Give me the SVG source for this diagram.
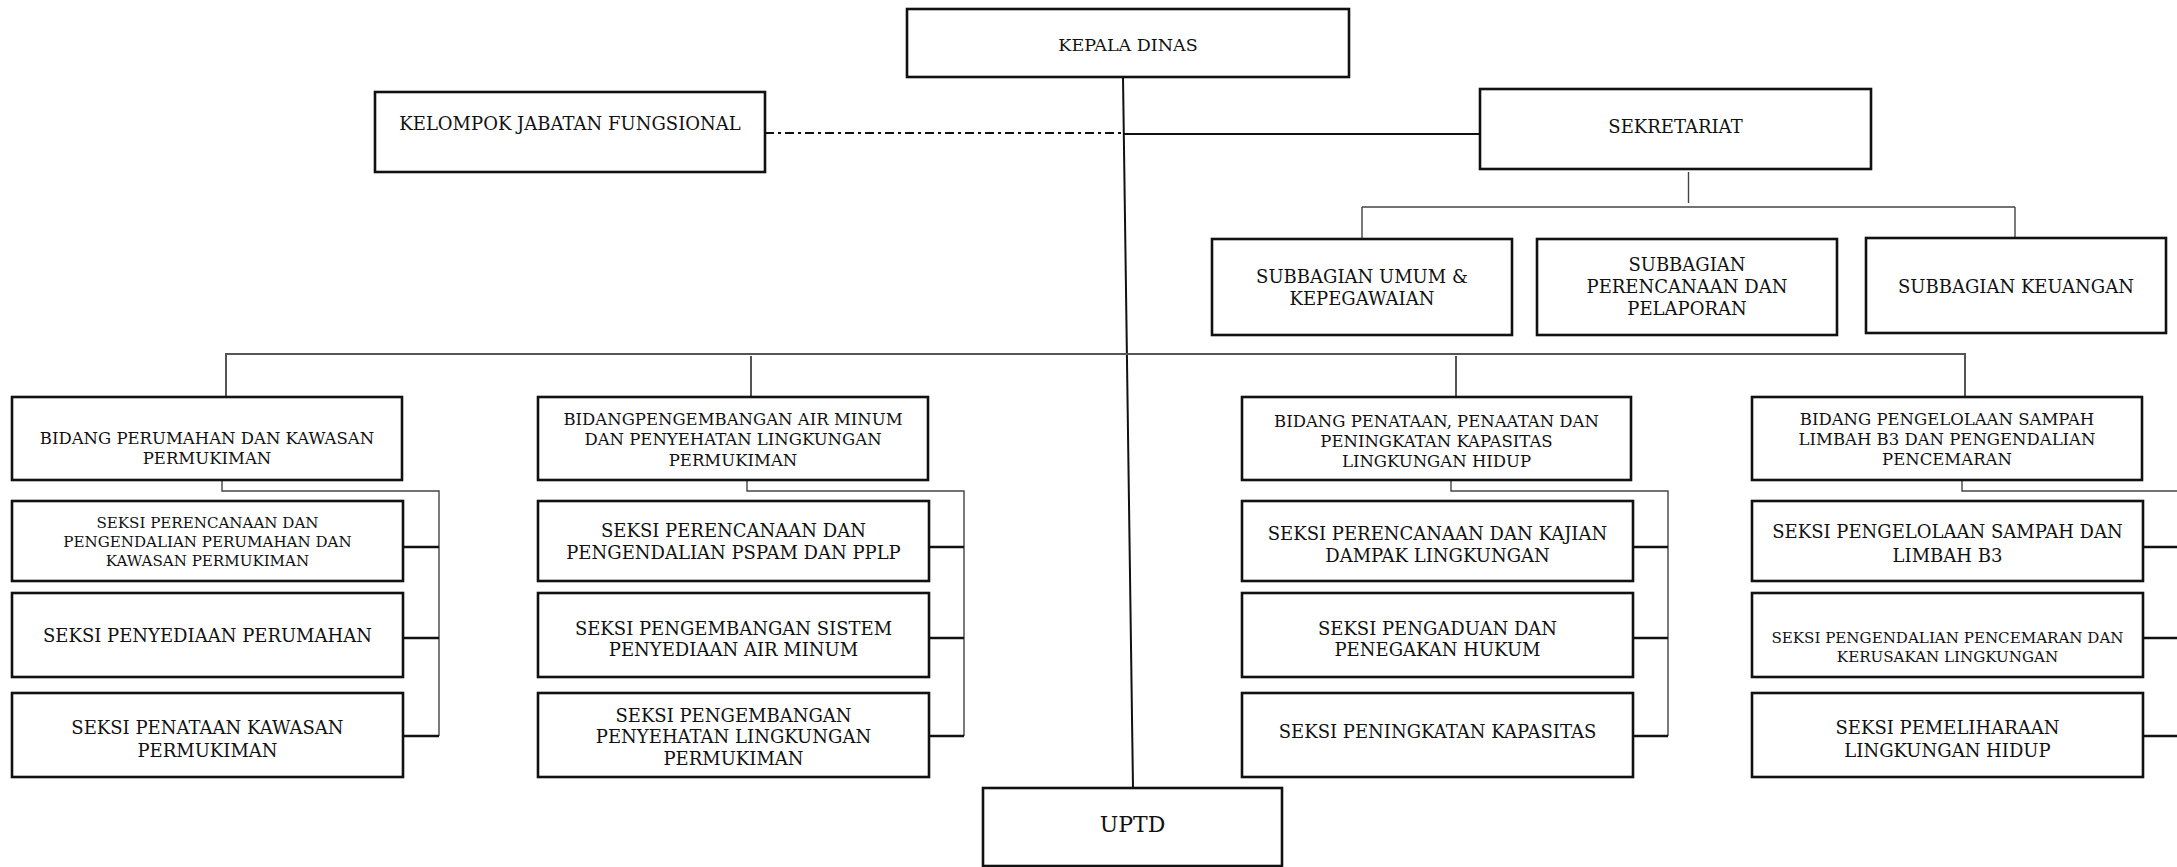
<svg xmlns="http://www.w3.org/2000/svg" width="2177" height="867" viewBox="0 0 2177 867">
<style>
.box{fill:#fff;stroke:#111;stroke-width:2.6}
.t{font-family:"DejaVu Serif","Liberation Serif",serif;fill:#111;text-anchor:middle}
.f18{font-size:18px}
.f17{font-size:17.5px}
.f165{font-size:16.5px}
.f155{font-size:15.1px}
.f22{font-size:22px}
.ln{fill:none;stroke:#111;stroke-width:1.6}
.bus{fill:none;stroke:#555;stroke-width:2}
.thin{fill:none;stroke:#444;stroke-width:1.4}
.stub{fill:none;stroke:#111;stroke-width:2.6}
.dd{fill:none;stroke:#111;stroke-width:2.2;stroke-dasharray:9 4 3 4}
</style>
<rect width="2177" height="867" fill="#fff"/>
<g id="connectors">
<path class="dd" d="M765,133 H1124"/>
<path class="ln" d="M1124,134 H1480" style="stroke-width:2.2"/>
<path class="ln" d="M1123,77 L1133,788" style="stroke-width:2"/>
<path class="thin" d="M1688.5,172 V203 M1362,207 H2015 M1362,207 V239 M2015,207 V238"/>
<path class="bus" d="M226,397 V354 H1965 V397 M751,356 V397 M1456,356 V397"/>
<path class="thin" d="M222,480 V491 H439 V736 M747,480 V491 H964 V736 M1451,480 V491 H1668 V736 M1962,480 V491 H2177"/>
<path class="stub" d="M403,547 H439 M403,638 H439 M403,736 H439 M929,547 H964 M929,638 H964 M929,736 H964 M1633,547 H1668 M1633,638 H1668 M1633,736 H1668 M2143,547 H2177 M2143,638 H2177 M2143,736 H2177"/>
</g>
<g id="kepala-dinas"><rect class="box" x="907" y="9" width="442" height="68"/><text class="t f17" x="1128" y="50.5">KEPALA DINAS</text></g>
<g id="kelompok"><rect class="box" x="375" y="92" width="390" height="80"/><text class="t f18" x="570" y="130">KELOMPOK JABATAN FUNGSIONAL</text></g>
<g id="sekretariat"><rect class="box" x="1480" y="89" width="391" height="80"/><text class="t f18" x="1675.5" y="133">SEKRETARIAT</text></g>
<g id="sub-umum"><rect class="box" x="1212" y="239" width="300" height="96"/><text class="t f18" x="1362"><tspan x="1362" y="282.5">SUBBAGIAN UMUM &amp;</tspan><tspan x="1362" y="304.5">KEPEGAWAIAN</tspan></text></g>
<g id="sub-perencanaan"><rect class="box" x="1537" y="239" width="300" height="96"/><text class="t f18"><tspan x="1687" y="270.5">SUBBAGIAN</tspan><tspan x="1687" y="292.5">PERENCANAAN DAN</tspan><tspan x="1687" y="314.5">PELAPORAN</tspan></text></g>
<g id="sub-keuangan"><rect class="box" x="1866" y="238" width="300" height="95"/><text class="t f18" x="2016" y="292.5">SUBBAGIAN KEUANGAN</text></g>
<g id="bidang-1"><rect class="box" x="12" y="397" width="390" height="83"/><text class="t f165"><tspan x="207" y="444">BIDANG PERUMAHAN DAN KAWASAN</tspan><tspan x="207" y="464">PERMUKIMAN</tspan></text></g>
<g id="bidang-2"><rect class="box" x="538" y="397" width="390" height="83"/><text class="t f165"><tspan x="733" y="425">BIDANGPENGEMBANGAN AIR MINUM</tspan><tspan x="733" y="445">DAN PENYEHATAN LINGKUNGAN</tspan><tspan x="733" y="465.5">PERMUKIMAN</tspan></text></g>
<g id="bidang-3"><rect class="box" x="1242" y="397" width="389" height="83"/><text class="t f165"><tspan x="1436.5" y="426.5">BIDANG PENATAAN, PENAATAN DAN</tspan><tspan x="1436.5" y="447">PENINGKATAN KAPASITAS</tspan><tspan x="1436.5" y="467">LINGKUNGAN HIDUP</tspan></text></g>
<g id="bidang-4"><rect class="box" x="1752" y="397" width="390" height="83"/><text class="t f165"><tspan x="1947" y="425">BIDANG PENGELOLAAN SAMPAH</tspan><tspan x="1947" y="445">LIMBAH B3 DAN PENGENDALIAN</tspan><tspan x="1947" y="465">PENCEMARAN</tspan></text></g>
<g id="seksi-1-1"><rect class="box" x="12" y="501" width="391" height="80"/><text class="t f155"><tspan x="207.5" y="528">SEKSI PERENCANAAN DAN</tspan><tspan x="207.5" y="547">PENGENDALIAN PERUMAHAN DAN</tspan><tspan x="207.5" y="566">KAWASAN PERMUKIMAN</tspan></text></g>
<g id="seksi-1-2"><rect class="box" x="12" y="593" width="391" height="84"/><text class="t f18" x="207.5" y="641.5">SEKSI PENYEDIAAN PERUMAHAN</text></g>
<g id="seksi-1-3"><rect class="box" x="12" y="693" width="391" height="84"/><text class="t f18"><tspan x="207.5" y="734">SEKSI PENATAAN KAWASAN</tspan><tspan x="207.5" y="756.5">PERMUKIMAN</tspan></text></g>
<g id="seksi-2-1"><rect class="box" x="538" y="501" width="391" height="80"/><text class="t f18"><tspan x="733.5" y="537">SEKSI PERENCANAAN DAN</tspan><tspan x="733.5" y="558.5">PENGENDALIAN PSPAM DAN PPLP</tspan></text></g>
<g id="seksi-2-2"><rect class="box" x="538" y="593" width="391" height="84"/><text class="t f18"><tspan x="733.5" y="635">SEKSI PENGEMBANGAN SISTEM</tspan><tspan x="733.5" y="656">PENYEDIAAN AIR MINUM</tspan></text></g>
<g id="seksi-2-3"><rect class="box" x="538" y="693" width="391" height="84"/><text class="t f18"><tspan x="733.5" y="721.5">SEKSI PENGEMBANGAN</tspan><tspan x="733.5" y="742.5">PENYEHATAN LINGKUNGAN</tspan><tspan x="733.5" y="765">PERMUKIMAN</tspan></text></g>
<g id="seksi-3-1"><rect class="box" x="1242" y="501" width="391" height="80"/><text class="t f18"><tspan x="1437.5" y="540">SEKSI PERENCANAAN DAN KAJIAN</tspan><tspan x="1437.5" y="561.5">DAMPAK LINGKUNGAN</tspan></text></g>
<g id="seksi-3-2"><rect class="box" x="1242" y="593" width="391" height="84"/><text class="t f18"><tspan x="1437.5" y="635">SEKSI PENGADUAN DAN</tspan><tspan x="1437.5" y="656">PENEGAKAN HUKUM</tspan></text></g>
<g id="seksi-3-3"><rect class="box" x="1242" y="693" width="391" height="84"/><text class="t f18" x="1437.5" y="738">SEKSI PENINGKATAN KAPASITAS</text></g>
<g id="seksi-4-1"><rect class="box" x="1752" y="501" width="391" height="80"/><text class="t f18"><tspan x="1947.5" y="538">SEKSI PENGELOLAAN SAMPAH DAN</tspan><tspan x="1947.5" y="561.5">LIMBAH B3</tspan></text></g>
<g id="seksi-4-2"><rect class="box" x="1752" y="593" width="391" height="84"/><text class="t f155"><tspan x="1947.5" y="643">SEKSI PENGENDALIAN PENCEMARAN DAN</tspan><tspan x="1947.5" y="662">KERUSAKAN LINGKUNGAN</tspan></text></g>
<g id="seksi-4-3"><rect class="box" x="1752" y="693" width="391" height="84"/><text class="t f18"><tspan x="1947.5" y="734">SEKSI PEMELIHARAAN</tspan><tspan x="1947.5" y="756.5">LINGKUNGAN HIDUP</tspan></text></g>
<g id="uptd"><rect class="box" x="983" y="788" width="299" height="78"/><text class="t f22" x="1132.5" y="831.5">UPTD</text></g>
</svg>
